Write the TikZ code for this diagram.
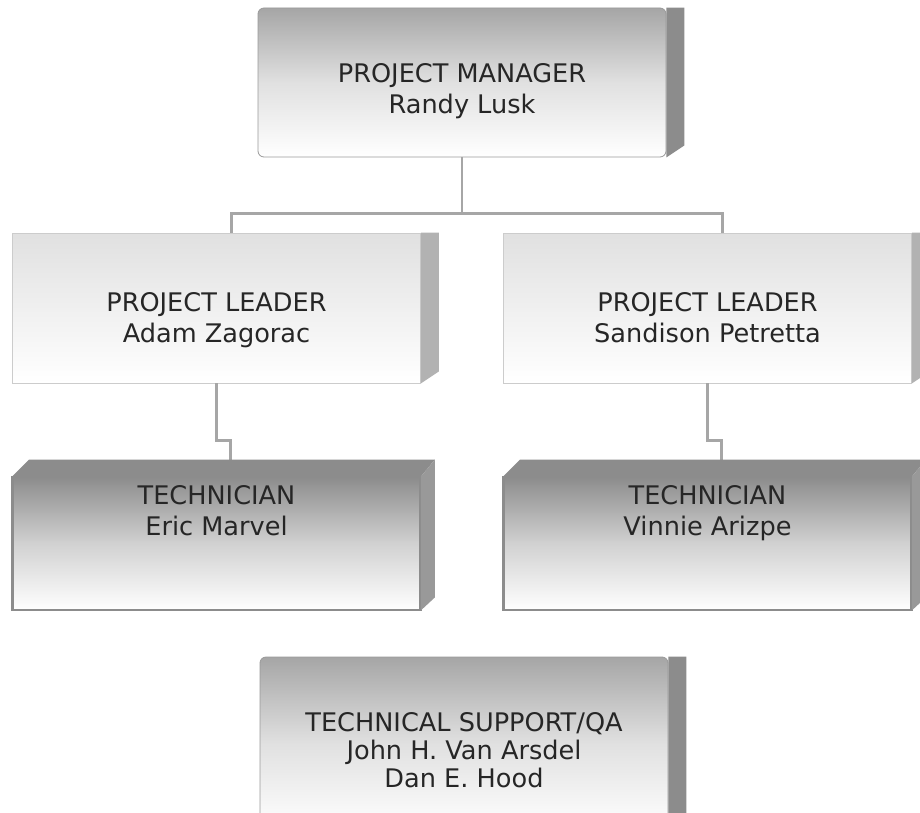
\documentclass[tikz,border=0pt]{standalone}
\usepackage{fontspec}
\setmainfont{DejaVu Sans}
\begin{document}
\begin{tikzpicture}[x=0.5pt,y=-0.5pt,
            level 1/.style={sibling distance=245.5pt,level distance=112.75pt,
                edge from parent path={(\tikzparentnode.south) -- ++(0,-28pt) -| ([xshift=7.5pt]\tikzchildnode.north)}},
            level 2/.style={level distance=117.75pt,
                edge from parent path={(\tikzparentnode.south) -- ++(0,-28.5pt) -| ([xshift=7pt,yshift=8.5pt]\tikzchildnode.north)}},
            edge from parent/.style={draw=black!35,line width=1.2pt},
            org box/.style={rectangle,minimum width=204pt,inner xsep=0pt,inner ysep=0pt,align=center,
                text=black!85,font=\fontsize{12.8}{15.5}\selectfont},
            manager box/.style={org box,rounded corners=3pt,draw=black!40,text height=52.5pt,text depth=22pt,
                top color=black!35,bottom color=white,middle color=black!12},
            leader box/.style={org box,draw=black!20,text height=54.5pt,text depth=20.5pt,
                top color=black!12,bottom color=white},
            tech box/.style={org box,draw=black!45,text height=29pt,text depth=37.5pt,
                top color=black!45,bottom color=white,middle color=black!18},
            support box/.style={manager box,font=\fontsize{12.8}{13.8}\selectfont,text height=65pt,text depth=21.5pt}]
    \clip (0,0) rectangle (920,813);
            % Define vertices
            \node[manager box] (pm) at (462,82.5) {PROJECT MANAGER\\Randy Lusk}
            child {node[leader box] (plA) {PROJECT LEADER\\Adam Zagorac}
                child {node[tech box] (techA) {TECHNICIAN\\Eric Marvel}}}
            child {node[leader box] (plB) {PROJECT LEADER\\Sandison Petretta}
                child {node[tech box] (techB) {TECHNICIAN\\Vinnie Arizpe}}};
            \node[support box] (qa) at (464,743.5) {TECHNICAL SUPPORT/QA\\John H. Van Arsdel\\Dan E. Hood};
            % Side faces
            \foreach \n/\c in {pm/45,plA/30,plB/30,qa/45}
                \fill[black!\c] (\n.north east) -- ++(9pt,0) -- ([xshift=9pt,yshift=6pt]\n.south east) -- (\n.south east) -- cycle;
            \foreach \n in {techA,techB} {
                \fill[black!45] (\n.north west) -- ([xshift=8.5pt,yshift=8.5pt]\n.north west) -- ([xshift=7pt,yshift=8.5pt]\n.north east) -- (\n.north east) -- cycle;
                \fill[black!40] (\n.north east) -- ([xshift=7pt,yshift=8.5pt]\n.north east) -- ([xshift=7pt,yshift=6.5pt]\n.south east) -- (\n.south east) -- cycle;
            }
\end{tikzpicture}
\end{document}
